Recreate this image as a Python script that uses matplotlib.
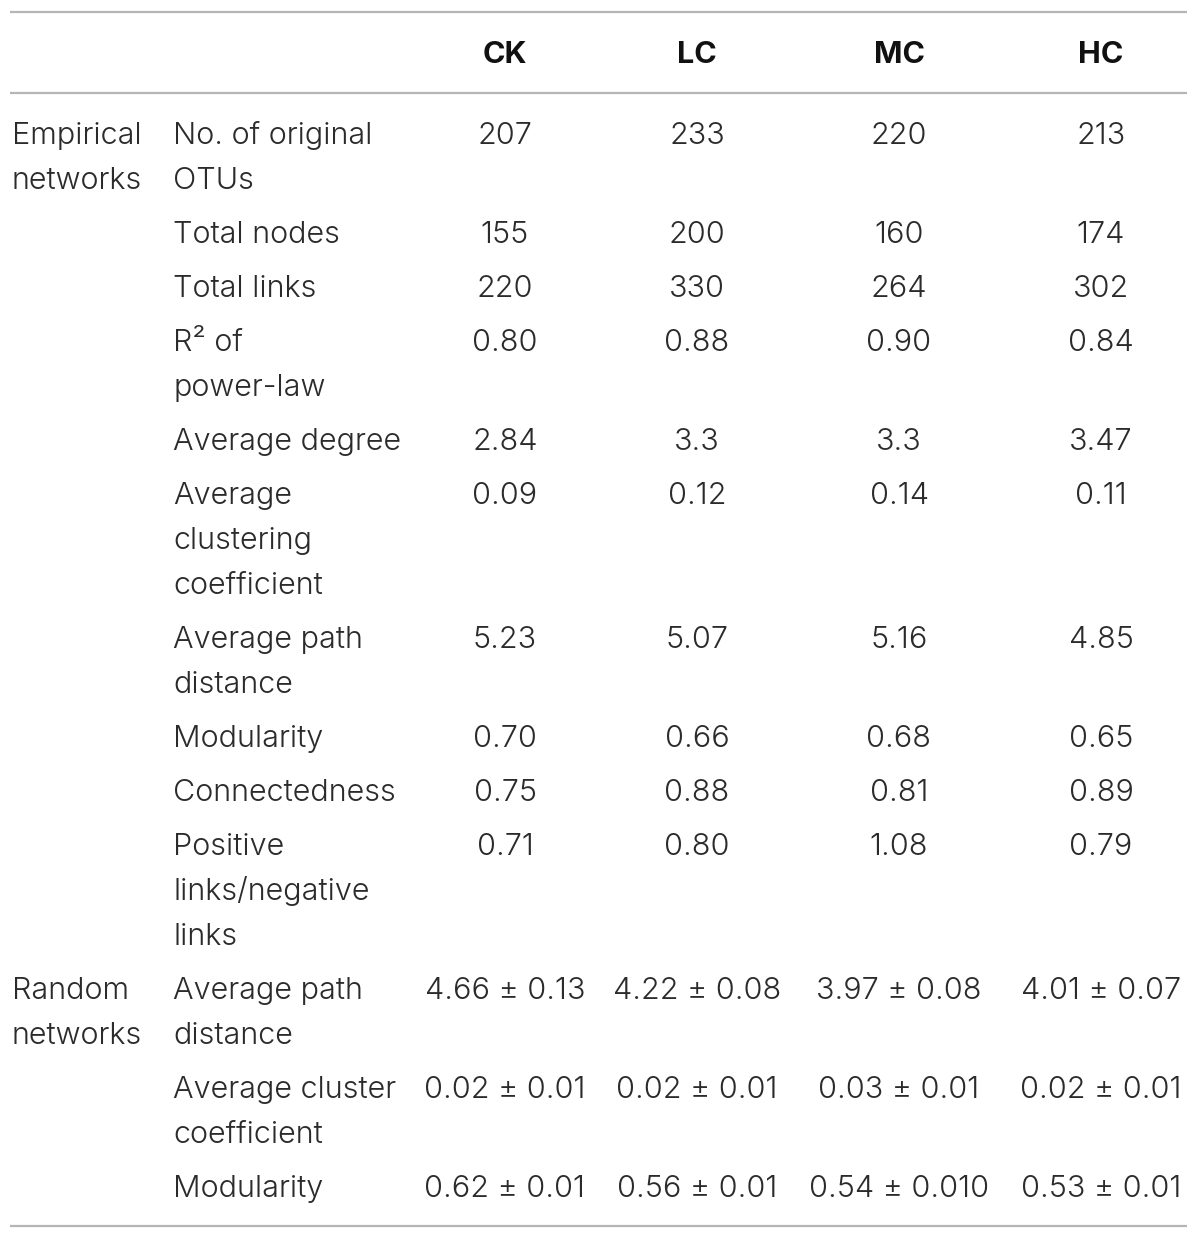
import matplotlib
matplotlib.use("Agg")
import matplotlib.pyplot as plt

groups = ["CK", "LC", "MC", "HC"]
sections = ["Empirical\nnetworks", "Random\nnetworks"]
section_rows = [10, 3]
row_labels = [
    "No. of original\nOTUs",
    "Total nodes",
    "Total links",
    "R² of\npower-law",
    "Average degree",
    "Average\nclustering\ncoefficient",
    "Average path\ndistance",
    "Modularity",
    "Connectedness",
    "Positive\nlinks/negative\nlinks",
    "Average path\ndistance",
    "Average cluster\ncoefficient",
    "Modularity",
]
ck = ["207", "155", "220", "0.80", "2.84", "0.09", "5.23", "0.70", "0.75", "0.71",
      "4.66 ± 0.13", "0.02 ± 0.01", "0.62 ± 0.01"]
lc = ["233", "200", "330", "0.88", "3.3", "0.12", "5.07", "0.66", "0.88", "0.80",
      "4.22 ± 0.08", "0.02 ± 0.01", "0.56 ± 0.01"]
mc = ["220", "160", "264", "0.90", "3.3", "0.14", "5.16", "0.68", "0.81", "1.08",
      "3.97 ± 0.08", "0.03 ± 0.01", "0.54 ± 0.010"]
hc = ["213", "174", "302", "0.84", "3.47", "0.11", "4.85", "0.65", "0.89", "0.79",
      "4.01 ± 0.07", "0.02 ± 0.01", "0.53 ± 0.01"]

W, H = 1200, 1239
fig = plt.figure(figsize=(W / 100, H / 100), dpi=100)
ax = fig.add_axes([0, 0, 1, 1])
ax.set_xlim(0, W)
ax.set_ylim(H, 0)
ax.axis("off")

fam = ["Inter", "DejaVu Sans"]
wt = 300
fs = 22
col = "#2b2b2b"
line_col = "#b5b5b5"

# horizontal rules
for y in [12, 93, 1226]:
    ax.plot([10, 1187], [y, y], color=line_col, lw=1.6, solid_capstyle="butt")

col_x = [505, 697, 899, 1101]
dy = 11  # baseline offset from visual center
for x, g in zip(col_x, groups):
    ax.text(x, 52 + dy, g, ha="center", va="baseline", fontsize=fs, color="#111111",
            family=fam, weight="bold")

line_h = 45
pad = 9
y = 133
row_y = []
for lab in row_labels:
    row_y.append(y)
    n = lab.count("\n") + 1
    y += n * line_h + pad

columns = [ck, lc, mc, hc]
for i, lab in enumerate(row_labels):
    for k, part in enumerate(lab.split("\n")):
        ax.text(173, row_y[i] + dy + k * line_h, part, ha="left", va="baseline",
                fontsize=fs, color=col, family=fam, weight=wt)
    for x, vals in zip(col_x, columns):
        ax.text(x, row_y[i] + dy, vals[i], ha="center", va="baseline",
                fontsize=fs, color=col, family=fam, weight=wt)

start = 0
for s, n in zip(sections, section_rows):
    for k, part in enumerate(s.split("\n")):
        ax.text(12, row_y[start] + dy + k * line_h, part, ha="left", va="baseline",
                fontsize=fs, color=col, family=fam, weight=wt)
    start += n

fig.savefig("out.png", dpi=100, facecolor="white")
